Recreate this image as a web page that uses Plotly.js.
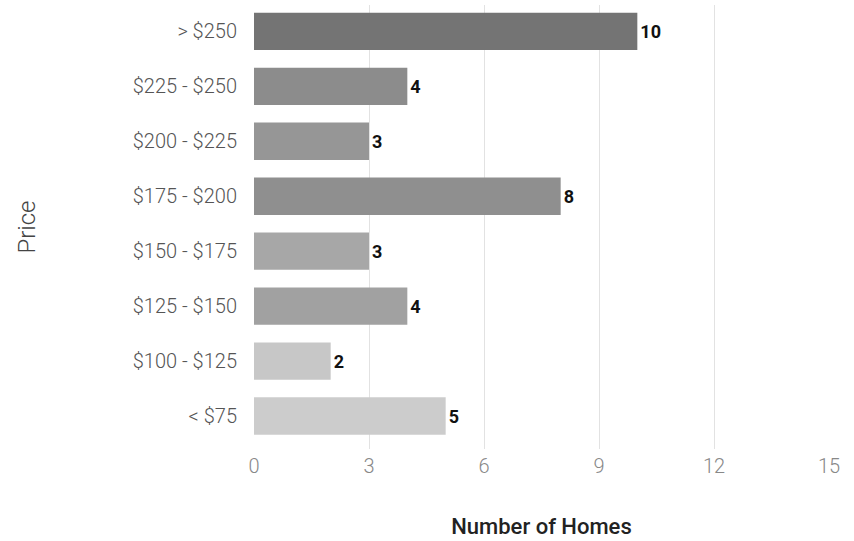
<!DOCTYPE html>
<html>
<head>
<meta charset="utf-8">
<script src="https://cdn.plot.ly/plotly-3.0.1.min.js"></script>
<style>html,body{margin:0;padding:0;background:#fff;}#chart{width:854px;height:541px;}</style>
</head>
<body>
<div id="chart"></div>
<script>
const categories = ["> $250", "$225 - $250", "$200 - $225", "$175 - $200", "$150 - $175", "$125 - $150", "$100 - $125", "< $75"];
const homes = [10, 4, 3, 8, 3, 4, 2, 5];
const barColors = ["#747474", "#8c8c8c", "#969696", "#8f8f8f", "#a7a7a7", "#a1a1a1", "#c7c7c7", "#cccccc"];
const xTicks = [0, 3, 6, 9, 12, 15];

const trace = {
  type: "bar",
  orientation: "h",
  y: categories,
  x: homes,
  text: homes.map(String),
  textposition: "outside",
  cliponaxis: false,
  textfont: {family: "Roboto", size: 18, color: "#111", weight: 700},
  marker: {color: barColors, line: {width: 0}},
  hoverinfo: "none"
};

const layout = {
  width: 854, height: 541,
  margin: {l: 254, r: 25, t: 5, b: 92},
  paper_bgcolor: "#ffffff",
  plot_bgcolor: "#ffffff",
  bargap: 0.32,
  showlegend: false,
  font: {family: "Roboto", color: "#555"},
  xaxis: {
    range: [0, 15],
    tickvals: xTicks,
    ticktext: xTicks.map(String),
    showgrid: true,
    gridcolor: "#e2e2e2",
    gridwidth: 1,
    zeroline: false,
    showline: false,
    ticks: "",
    ticklabelstandoff: 3,
    tickfont: {family: "Roboto", size: 20, color: "#888", weight: 300},
    title: {text: "Number of Homes", font: {family: "Roboto", size: 22, color: "#222", weight: 500}, standoff: 41}
  },
  yaxis: {
    type: "category",
    range: [7.6, -0.48],
    showgrid: false,
    zeroline: false,
    showline: false,
    ticks: "",
    ticklabelstandoff: 16,
    tickfont: {family: "Roboto", size: 20, color: "#555", weight: 300},
    title: {text: "Price", font: {family: "Roboto", size: 24, color: "#444", weight: 300}, standoff: 90}
  }
};

Plotly.newPlot("chart", [trace], layout, {staticPlot: true, displayModeBar: false});
</script>
</body>
</html>
